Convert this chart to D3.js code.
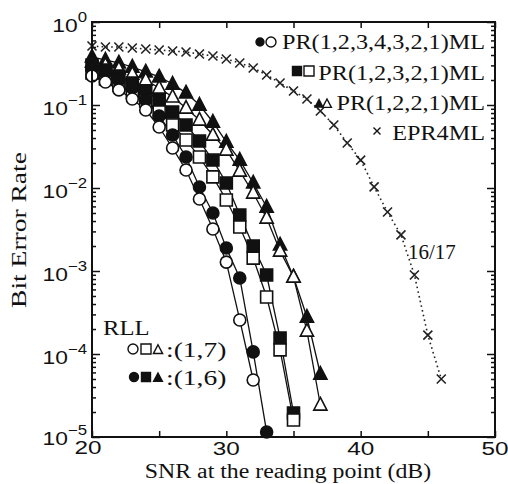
<!DOCTYPE html>
<html><head><meta charset="utf-8">
<script src="https://cdn.jsdelivr.net/npm/d3@7"></script>
<style>body{margin:0;background:#fff}svg{display:block}</style>
</head><body><svg id="c" width="508" height="484"></svg>
<script>
// ---------- data ----------
const xTickValues = [20, 30, 40, 50];
const xAllTicks = [20, 25, 30, 35, 40, 45, 50];
const yTickExponents = [0, -1, -2, -3, -4, -5];

const snrCircle17 = [20,21,22,23,24,25,26,27,28,29,30,31,32];
const berCircle17 = [0.224,0.189,0.152,0.118,0.0871,0.0543,0.0303,0.0165,0.00737,0.00321,0.00128,2.57e-4,4.86e-5];
const snrCircle16 = [20,21,22,23,24,25,26,27,28,29,30,31,32,33];
const berCircle16 = [0.279,0.243,0.200,0.160,0.115,0.0737,0.0435,0.0236,0.0103,0.00500,0.00189,8.24e-4,1.06e-4,1.15e-5];

const snrSquare17 = [20,21,22,23,24,25,26,27,28,29,30,31,32,33,34,35];
const berSquare17 = [0.243,0.206,0.174,0.143,0.112,0.0823,0.0574,0.0379,0.0236,0.0136,0.00717,0.00339,0.00143,4.86e-4,1.12e-4,1.60e-5];
const snrSquare16 = [20,21,22,23,24,25,26,27,28,29,30,31,32,33,34,35];
const berSquare16 = [0.303,0.264,0.224,0.184,0.148,0.115,0.0823,0.0574,0.0368,0.0217,0.0115,0.00473,0.00200,8.95e-4,1.56e-4,1.95e-5];

const snrTri17 = [20,21,22,23,24,25,26,27,28,29,30,31,32,33,34,35,36,37];
const berTri17 = [0.330,0.303,0.272,0.236,0.200,0.160,0.125,0.0920,0.0660,0.0435,0.0287,0.0160,0.00871,0.00435,0.00174,8.47e-4,1.89e-4,2.43e-5];
const snrTri16 = [20,21,22,23,24,25,26,27,28,29,30,31,32,33,34,35,36,37];
const berTri16 = [0.379,0.348,0.321,0.287,0.250,0.218,0.179,0.140,0.100,0.0624,0.0358,0.0217,0.0115,0.00590,0.00206,8.47e-4,2.79e-4,5.74e-5];

const snrEPR4 = [20,21,22,23,24,25,26,27,28,29,30,31,32,33,34,35,36,37,38,39,40,41,42,43,44,45,46];
const berEPR4 = [0.514,0.50,0.50,0.486,0.473,0.46,0.447,0.435,0.412,0.389,0.358,0.321,0.279,0.230,0.184,0.1475,0.118,0.0847,0.0574,0.0349,0.0217,0.0103,0.00514,0.00272,8.95e-4,1.69e-4,5.0e-5];

const legendLabels = ["PR(1,2,3,4,3,2,1)ML", "PR(1,2,3,2,1)ML", "PR(1,2,2,1)ML", "EPR4ML"];
const rllTitle = "RLL";
const rllLabels = [":(1,7)", ":(1,6)"];
const codeLabel = "16/17";
const xTitle = "SNR at the reading point  (dB)";
const yTitle = "Bit Error Rate";

// ---------- setup ----------
const svg = d3.select("#c");
const serif = "'Liberation Serif','Times New Roman',serif";
const sans = "'Liberation Sans',Arial,sans-serif";
const L = 92, R = 495, T = 22, B = 437;
const x = d3.scaleLinear().domain([20, 50]).range([L, R]);
const y = d3.scaleLog().domain([1e-5, 1]).range([B, T]);

function stretch(sel, k) {
  sel.each(function () {
    const w = this.getComputedTextLength();
    this.setAttribute("textLength", w * k);
    this.setAttribute("lengthAdjust", "spacingAndGlyphs");
  });
}

const shapes = {
  circle: s => d3.symbol(d3.symbolCircle, Math.PI * s * s)(),
  square: s => `M${-s},${-s}h${2*s}v${2*s}h${-2*s}Z`,
  triangle: s => `M0,${-s*1.25}L${s*1.1},${s*0.85}L${-s*1.1},${s*0.85}Z`,
  cross: s => `M${-s},${-s}L${s},${s}M${s},${-s}L${-s},${s}`
};

const series = [
  {snr: snrTri16, ber: berTri16, shape: "triangle", filled: true},
  {snr: snrTri17, ber: berTri17, shape: "triangle", filled: false},
  {snr: snrSquare16, ber: berSquare16, shape: "square", filled: true},
  {snr: snrSquare17, ber: berSquare17, shape: "square", filled: false},
  {snr: snrCircle16, ber: berCircle16, shape: "circle", filled: true},
  {snr: snrCircle17, ber: berCircle17, shape: "circle", filled: false},
];

const line = d3.line().x(d => x(d[0])).y(d => y(d[1]));

// ---------- curves ----------
const gLines = svg.append("g");
series.forEach(s => {
  gLines.append("path")
    .datum(s.snr.map((v, i) => [v, s.ber[i]]))
    .attr("d", line).attr("fill", "none").attr("stroke", "#111").attr("stroke-width", 1.3);
});
gLines.append("path")
  .datum(snrEPR4.map((v, i) => [v, berEPR4[i]]))
  .attr("d", line).attr("fill", "none").attr("stroke", "#222")
  .attr("stroke-width", 1.6).attr("stroke-dasharray", "1.6,3.2");

const gMarks = svg.append("g");
series.forEach(s => {
  gMarks.append("g").selectAll("path")
    .data(s.snr.map((v, i) => [v, s.ber[i]]))
    .join("path")
    .attr("transform", d => `translate(${x(d[0])},${y(d[1])})`)
    .attr("d", shapes[s.shape](6))
    .attr("fill", s.filled ? "#111" : "#fff")
    .attr("stroke", "#111").attr("stroke-width", 1.6);
});
gMarks.append("g").selectAll("path")
  .data(snrEPR4.map((v, i) => [v, berEPR4[i]]))
  .join("path")
  .attr("transform", d => `translate(${x(d[0])},${y(d[1])})`)
  .attr("d", shapes.cross(4.5))
  .attr("fill", "none").attr("stroke", "#222").attr("stroke-width", 1.6);

// ---------- axes ----------
const majorY = yTickExponents.map(e => Math.pow(10, e));
const minorY = y.ticks().filter(v => !majorY.some(m => Math.abs(m - v) / v < 1e-6));
const clean = g => { g.select(".domain").remove(); g.selectAll("line").attr("stroke", "#111").attr("stroke-width", 1.5); };

svg.append("g").attr("transform", `translate(0,${B})`)
  .call(d3.axisBottom(x).tickValues(xAllTicks).tickSize(-6).tickFormat("")).call(clean);
svg.append("g").attr("transform", `translate(0,${T})`)
  .call(d3.axisTop(x).tickValues(xAllTicks).tickSize(-6).tickFormat("")).call(clean);
svg.append("g").attr("transform", `translate(${L},0)`)
  .call(d3.axisLeft(y).tickValues(majorY).tickSize(-8).tickFormat("")).call(clean);
svg.append("g").attr("transform", `translate(${L},0)`)
  .call(d3.axisLeft(y).tickValues(minorY).tickSize(-4).tickFormat("")).call(clean);
svg.append("g").attr("transform", `translate(${R},0)`)
  .call(d3.axisRight(y).tickValues(majorY).tickSize(-8).tickFormat("")).call(clean);
svg.append("g").attr("transform", `translate(${R},0)`)
  .call(d3.axisRight(y).tickValues(minorY).tickSize(-4).tickFormat("")).call(clean);

svg.append("rect").attr("x", L).attr("y", T).attr("width", R - L).attr("height", B - T)
  .attr("fill", "none").attr("stroke", "#111").attr("stroke-width", 2);

// y tick labels
const yl = svg.append("g").selectAll("text").data(yTickExponents).join("text")
  .attr("x", 87).attr("y", e => y(Math.pow(10, e)) + (e === -5 ? 8 : 10))
  .attr("text-anchor", "end").attr("font-family", sans).attr("font-size", 19).attr("fill", "#111");
yl.append("tspan").text("10");
yl.append("tspan").attr("dy", -10).attr("font-size", 14).text(e => e === 0 ? "0" : "\u2212" + (-e));
stretch(yl, 1.2);

// x tick labels
const xl = svg.append("g").selectAll("text").data(xTickValues).join("text")
  .attr("x", v => x(v) + (v === 20 ? -4 : 0)).attr("y", v => v === 20 ? 454 : 455)
  .attr("text-anchor", "middle").attr("font-family", sans).attr("font-size", 18).attr("fill", "#111")
  .text(v => v);
stretch(xl, 1.35);

// axis titles
const xt = svg.append("text").attr("x", 288).attr("y", 478).attr("text-anchor", "middle")
  .attr("font-family", serif).attr("font-size", 20).attr("fill", "#111").text(xTitle);
stretch(xt, 1.19);
const yt = svg.append("text").attr("transform", "translate(26,230) rotate(-90)").attr("text-anchor", "middle")
  .attr("font-family", serif).attr("font-size", 22).attr("fill", "#111").text(yTitle);
stretch(yt, 1.25);

// ---------- legend (top right) ----------
const legY = [49, 80, 110, 140];
const lg = svg.append("g");
legendLabels.forEach((t, i) => {
  const tx = lg.append("text").attr("x", 485).attr("y", legY[i]).attr("text-anchor", "end")
    .attr("font-family", serif).attr("font-size", 22).attr("fill", "#111").text(t);
  stretch(tx, 1.1);
});
const legMarks = [
  {cx: 260, cy: 42, shape: "circle", filled: true, s: 4},
  {cx: 271, cy: 42, shape: "circle", filled: false, s: 5},
  {cx: 297, cy: 71, shape: "square", filled: true, s: 4.5},
  {cx: 309, cy: 71, shape: "square", filled: false, s: 5},
  {cx: 319, cy: 104, shape: "triangle", filled: true, s: 3.5},
  {cx: 327, cy: 104, shape: "triangle", filled: false, s: 4},
  {cx: 377, cy: 131, shape: "cross", filled: false, s: 3.5},
];
lg.selectAll("path").data(legMarks).join("path")
  .attr("transform", d => `translate(${d.cx},${d.cy})`)
  .attr("d", d => shapes[d.shape](d.s))
  .attr("fill", d => d.shape === "cross" ? "none" : (d.filled ? "#111" : "#fff"))
  .attr("stroke", "#111").attr("stroke-width", 1.4);

// ---------- RLL legend ----------
const rg = svg.append("g");
stretch(rg.append("text").attr("x", 103).attr("y", 335).attr("font-family", serif)
  .attr("font-size", 22).attr("fill", "#111").text(rllTitle), 1.12);
const rllY = [357, 385];
rllLabels.forEach((t, i) => {
  stretch(rg.append("text").attr("x", 166).attr("y", rllY[i]).attr("font-family", serif)
    .attr("font-size", 22).attr("fill", "#111").text(t), 1.25);
});
const rllMarks = [
  {cx: 133, cy: 349, shape: "circle", filled: false, s: 5},
  {cx: 146, cy: 349, shape: "square", filled: false, s: 5},
  {cx: 158, cy: 350, shape: "triangle", filled: false, s: 4.2},
  {cx: 134, cy: 377, shape: "circle", filled: true, s: 4.5},
  {cx: 146, cy: 377, shape: "square", filled: true, s: 4.5},
  {cx: 158, cy: 378, shape: "triangle", filled: true, s: 4},
];
rg.selectAll("path").data(rllMarks).join("path")
  .attr("transform", d => `translate(${d.cx},${d.cy})`)
  .attr("d", d => shapes[d.shape](d.s))
  .attr("fill", d => d.filled ? "#111" : "#fff")
  .attr("stroke", "#111").attr("stroke-width", 1.4);

// code rate label
svg.append("text").attr("x", 408).attr("y", 259).attr("font-family", serif)
  .attr("font-size", 21).attr("fill", "#111").text(codeLabel);
</script></body></html>
